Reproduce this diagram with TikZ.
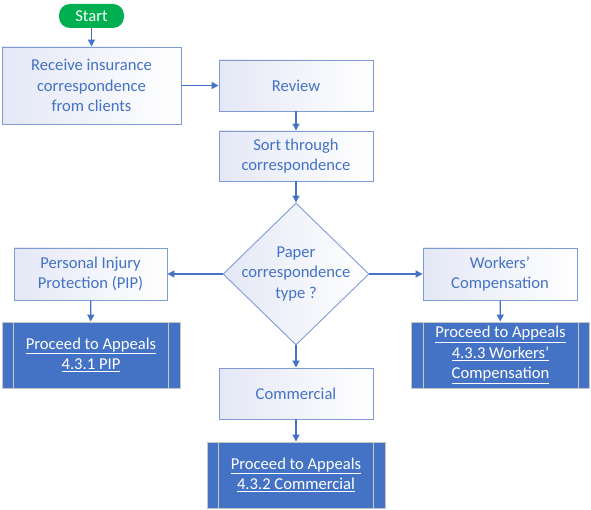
\documentclass[tikz,border=0pt]{standalone}
\usepackage{fontspec}
\setmainfont{Carlito}
\usetikzlibrary{shapes.geometric,arrows.meta}

\definecolor{flowblue}{HTML}{4472C4}
\definecolor{edgeblue}{HTML}{7F9BD6}
\definecolor{boxtint}{HTML}{E4E8F6}
\definecolor{startgreen}{HTML}{00B050}

\begin{document}
\begin{tikzpicture}[x=1pt, y=-1pt,
    every node/.style = {font=\fontsize{16.6}{20.5}\selectfont, align=center},
    proc/.style = {draw=edgeblue, line width=0.9pt, left color=boxtint,
      right color=white, text=flowblue, minimum width=154pt,
      minimum height=51pt, inner sep=0pt},
    appeal/.style = {fill=flowblue, draw=black!22, line width=0.9pt,
      text=white, minimum width=178pt, minimum height=66pt, inner sep=0pt},
    flow/.style = {draw=flowblue, line width=1.2pt,
      -{Triangle[length=7pt,width=7pt]}}]

    \useasboundingbox (0,0) rectangle (591,510);

    % top of the chart
    \node[fill=startgreen, text=white, rounded corners=11pt,
      minimum width=65pt, minimum height=24pt, inner sep=0pt]
      (start) at (91.5,16) {Start};

    \node[proc, minimum width=179pt, minimum height=77pt]
      (receive) at (91.5,85.5) {Receive insurance\\correspondence\\from clients};

    \node[proc] (review) at (296,85.5) {Review};
    \node[proc, minimum height=50pt] (sort) at (296,156) {Sort through\\correspondence};

    % decision
    \node[diamond, draw=edgeblue, line width=0.9pt, left color=boxtint,
      right color=white, minimum width=146pt, minimum height=142pt,
      inner sep=0pt] (type) at (296,274) {};
    \node[text=flowblue] (typetxt) at (type.center) {Paper\\correspondence\\type ?};

    % the three branches
    \node[proc, minimum width=153pt, minimum height=52pt] (pip) at (90.5,274)
      {Personal Injury\\Protection (PIP)};
    \node[proc, minimum height=52pt] (workers) at (500,274)
      {Workers’\\Compensation};
    \node[proc] (commercial) at (296,393.5) {Commercial};

    \node[appeal] (appip) at (91,355)
      {\underline{Proceed to Appeals}\\\underline{4.3.1 PIP}};
    \node[appeal] (apwc) at (500.5,355)
      {\underline{Proceed to Appeals}\\\underline{4.3.3 Workers’}\\\underline{Compensation}};
    \node[appeal] (apcom) at (296,475)
      {\underline{Proceed to Appeals}\\\underline{4.3.2 Commercial}};

    \foreach \n in {appip,apwc,apcom}{
      \draw[black!22, line width=0.9pt] ([xshift=12pt]\n.north west) -- ([xshift=12pt]\n.south west);
      \draw[black!22, line width=0.9pt] ([xshift=-12pt]\n.north east) -- ([xshift=-12pt]\n.south east);
    }

    % connectors
    \draw[flow] (start) -- (receive);
    \draw[flow] (receive) -- (review);
    \draw[flow] (review) -- (sort);
    \draw[flow] (sort) -- (type);
    \draw[flow] (type.west) -- (pip);
    \draw[flow] (type.east) -- (workers);
    \draw[flow] (type.south) -- (commercial);
    \draw[flow] (pip) -- (appip);
    \draw[flow] (workers) -- (apwc);
    \draw[flow] (commercial) -- (apcom);
  \end{tikzpicture}
\end{document}
